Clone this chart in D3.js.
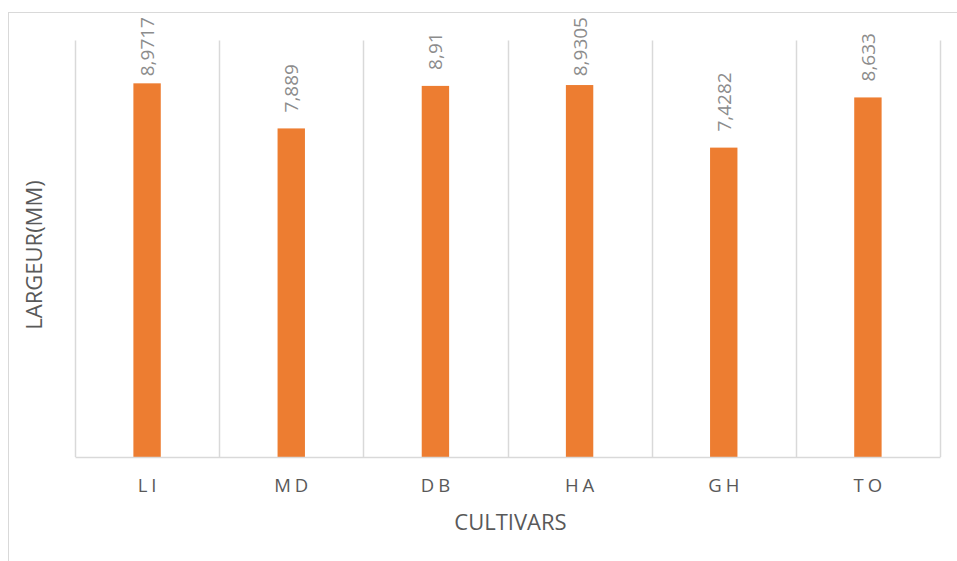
<!DOCTYPE html>
<html>
<head>
<meta charset="utf-8">
<script src="https://cdn.jsdelivr.net/npm/d3@7"></script>
<style>
  html, body { margin: 0; padding: 0; background: #fff; }
  svg { display: block; font-family: "Open Sans", "Noto Sans", sans-serif; }
</style>
</head>
<body>
<svg id="chart" width="957" height="561"></svg>
<script>
// Cultivars and their measured width (mm)
const categories = ["LI", "MD", "DB", "HA", "GH", "TO"];
const values = [8.9717, 7.889, 8.91, 8.9305, 7.4282, 8.633];
const valueLabels = ["8,9717", "7,889", "8,91", "8,9305", "7,4282", "8,633"];
const yDomain = [0, 10];

const svg = d3.select("#chart");
const plot = { left: 75, right: 940, top: 40.5, bottom: 457 };
const labelTopLimit = 17;   // labels are kept inside the chart frame

// outer chart frame
svg.append("rect")
  .attr("x", 8.5).attr("y", 12.5)
  .attr("width", 1200).attr("height", 1200)
  .attr("fill", "none").attr("stroke", "#d9d9d9").attr("stroke-width", 1);

const x = d3.scaleBand().domain(categories).range([plot.left, plot.right]).padding(0);
const y = d3.scaleLinear().domain(yDomain).range([plot.bottom, plot.top]);

// vertical gridlines at category boundaries
const bounds = categories.map(c => x(c)).concat([x(categories[categories.length - 1]) + x.bandwidth()]);
svg.append("g").selectAll("line").data(bounds).join("line")
  .attr("x1", d => Math.round(d) + 0.5).attr("x2", d => Math.round(d) + 0.5)
  .attr("y1", plot.top).attr("y2", plot.bottom)
  .attr("stroke", "#d9d9d9").attr("stroke-width", 1.5);

// bars
const barW = x.bandwidth() * 0.19;
svg.append("g").selectAll("rect").data(values).join("rect")
  .attr("x", (d, i) => x(categories[i]) + x.bandwidth() / 2 - barW / 2)
  .attr("width", barW)
  .attr("y", d => y(d))
  .attr("height", d => y(0) - y(d))
  .attr("fill", "#ED7D31");

// x axis
const xAxis = svg.append("g")
  .attr("transform", `translate(0,${plot.bottom})`)
  .call(d3.axisBottom(x).tickSize(0).tickPadding(22));
xAxis.select(".domain").attr("stroke", "#d9d9d9").attr("stroke-width", 1.5);
xAxis.selectAll("text")
  .attr("fill", "#595959")
  .style("font-size", "18.5px")
  .style("letter-spacing", "4px")
  .attr("dx", "2px")
  .style("font-family", "'Open Sans', sans-serif");

// rotated value labels above bars, pushed down when they would leave the frame
svg.append("g").selectAll("text").data(values).join("text")
  .attr("text-anchor", "start")
  .attr("fill", "#8c8c8c")
  .style("font-size", "19px")
  .text((d, i) => valueLabels[i])
  .each(function (d, i) {
    const len = this.getComputedTextLength();
    const start = Math.max(y(d) - 16, labelTopLimit + len);
    d3.select(this).attr("transform",
      `translate(${x(categories[i]) + x.bandwidth() / 2 + 7},${start}) rotate(-90)`);
  });

// axis titles
svg.append("text")
  .attr("x", (plot.left + plot.right) / 2 + 3).attr("y", 530)
  .attr("text-anchor", "middle")
  .attr("fill", "#595959")
  .style("font-size", "22px")
  .text("CULTIVARS");

svg.append("text")
  .attr("transform", `translate(42,255) rotate(-90)`)
  .attr("text-anchor", "middle")
  .attr("fill", "#595959")
  .style("font-size", "22px")
  .text("LARGEUR(MM)");
</script>
</body>
</html>
